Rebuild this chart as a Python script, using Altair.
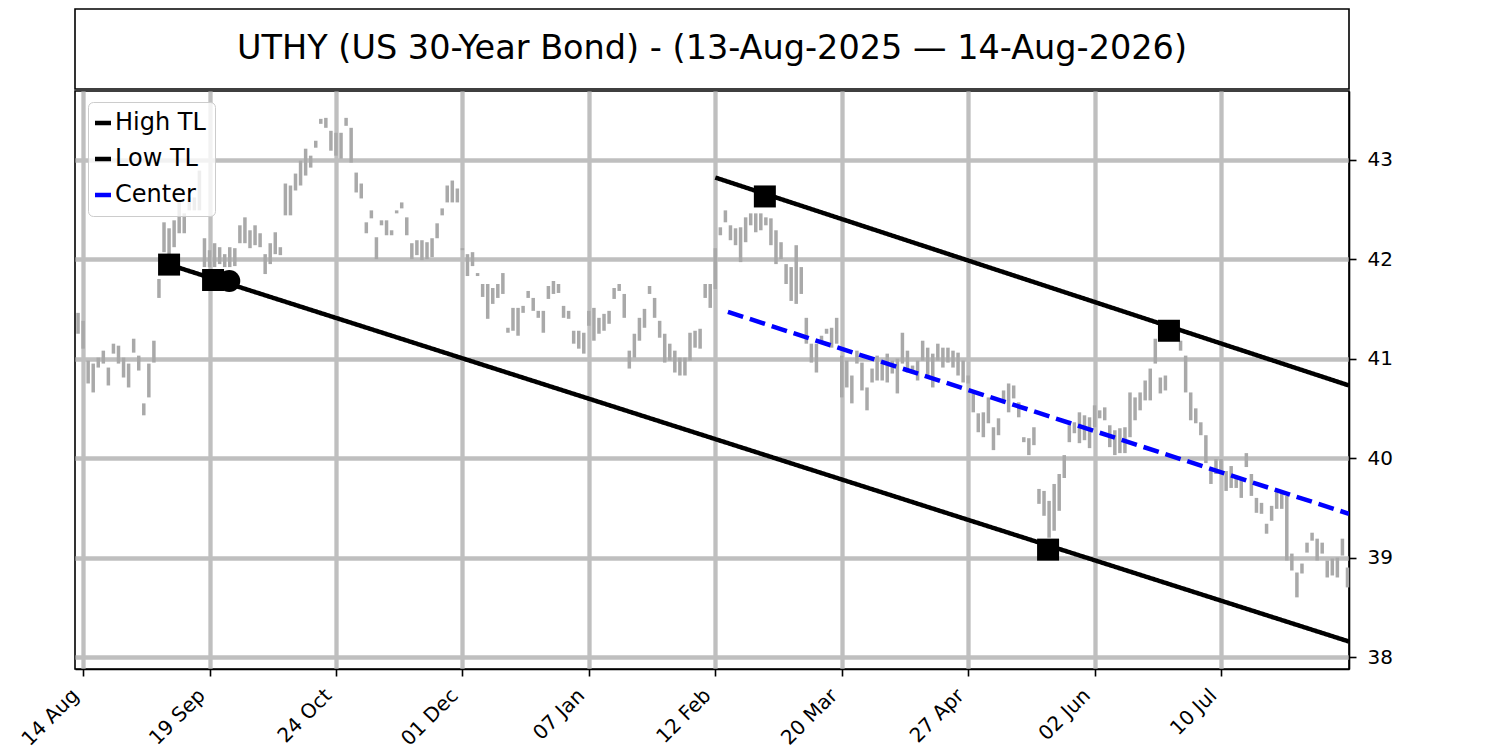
import altair as alt
import pandas as pd

title_text = "UTHY (US 30-Year Bond) - (13-Aug-2025 \u2014 14-Aug-2026)"

# x axis runs on the bar index (one bar per trading day)
tick_idx = [1, 26, 51, 76, 101, 126, 151, 176, 201, 226]
tick_labels = ["14 Aug", "19 Sep", "24 Oct", "01 Dec", "07 Jan",
               "12 Feb", "20 Mar", "27 Apr", "02 Jun", "10 Jul"]
price_ticks = [38, 39, 40, 41, 42, 43]

# daily low / high
low = [
    41.25, 41.10, 40.75, 40.66, 40.91, 40.95, 40.73, 41.05, 40.95, 40.81,
    40.71, 41.06, 40.88, 40.43, 40.61, 40.96, 41.61, 42.07, 42.02, 42.12,
    42.26, 42.26, 42.49, 42.49, 42.49, 41.92, 41.92, 41.92, 41.95, 41.92,
    41.92, 41.93, 42.16, 42.16, 42.11, 42.14, 42.12, 41.85, 41.95, 42.05,
    42.04, 42.44, 42.44, 42.69, 42.74, 42.84, 42.92, 43.12, 43.36, 43.32,
    43.09, 43.04, 43.01, 43.34, 42.97, 42.67, 42.61, 42.26, 42.41, 42.00,
    42.34, 42.24, 42.24, 42.46, 42.51, 42.24, 42.00, 42.04, 41.99, 42.00,
    42.02, 42.21, 42.44, 42.57, 42.57, 42.57, 42.09, 41.83, 41.93, 41.83,
    41.62, 41.40, 41.55, 41.61, 41.65, 41.26, 41.28, 41.23, 41.46, 41.61,
    41.48, 41.41, 41.26, 41.60, 41.65, 41.66, 41.41, 41.40, 41.15, 41.10,
    41.05, 41.33, 41.18, 41.25, 41.28, 41.35, 41.60, 41.68, 41.41, 40.90,
    41.01, 41.18, 41.31, 41.65, 41.41, 41.21, 40.96, 40.98, 40.86, 40.83,
    40.83, 40.98, 41.11, 41.10, 41.61, 41.51, 41.70, 42.24, 42.37, 42.19,
    42.14, 41.97, 42.17, 42.34, 42.27, 42.29, 42.34, 42.14, 41.95, 42.00,
    41.75, 41.58, 41.55, 41.65, 41.15, 40.96, 40.86, 41.15, 41.25, 41.11,
    41.15, 40.61, 40.71, 40.55, 40.95, 40.68, 40.48, 40.76, 40.78, 40.78,
    40.76, 40.85, 40.65, 40.95, 40.86, 40.85, 40.78, 40.98, 40.81, 40.71,
    40.98, 40.91, 40.96, 40.91, 40.83, 40.76, 40.75, 40.46, 40.26, 40.21,
    40.35, 40.08, 40.23, 40.55, 40.46, 40.60, 40.41, 40.16, 40.03, 40.13,
    39.54, 39.42, 39.20, 39.27, 39.47, 39.80, 40.16, 40.25, 40.15, 40.18,
    40.10, 40.31, 40.40, 40.38, 40.11, 40.03, 40.05, 40.05, 40.21, 40.38,
    40.48, 40.58, 40.58, 40.95, 40.65, 40.68, 41.18, 41.18, 41.08, 40.66,
    40.38, 40.35, 40.23, 39.95, 39.74, 39.84, 39.87, 39.67, 39.70, 39.70,
    39.60, 39.91, 39.62, 39.45, 39.44, 39.24, 39.37, 39.49, 39.49, 38.97,
    38.87, 38.60, 38.84, 39.05, 39.17, 38.97, 39.04, 38.80, 38.82, 38.80,
    39.02, 38.70,
]
high = [
    41.46, 41.38, 40.98, 40.95, 41.01, 41.08, 40.91, 41.15, 41.13, 41.01,
    40.95, 41.20, 41.03, 40.55, 40.95, 41.18, 41.80, 42.37, 42.31, 42.39,
    42.59, 42.46, 42.62, 42.62, 42.89, 42.21, 42.09, 42.16, 42.12, 42.05,
    42.12, 42.11, 42.34, 42.42, 42.29, 42.34, 42.26, 42.05, 42.16, 42.27,
    42.12, 42.76, 42.74, 42.86, 42.99, 43.11, 43.04, 43.19, 43.41, 43.42,
    43.29, 43.27, 43.27, 43.42, 43.32, 42.87, 42.76, 42.37, 42.49, 42.22,
    42.39, 42.39, 42.29, 42.49, 42.57, 42.42, 42.16, 42.19, 42.19, 42.17,
    42.21, 42.36, 42.51, 42.74, 42.79, 42.71, 42.11, 42.05, 42.07, 41.86,
    41.75, 41.75, 41.71, 41.75, 41.86, 41.31, 41.51, 41.51, 41.53, 41.68,
    41.61, 41.48, 41.48, 41.73, 41.78, 41.75, 41.53, 41.48, 41.28, 41.28,
    41.26, 41.48, 41.51, 41.41, 41.45, 41.48, 41.71, 41.75, 41.65, 41.08,
    41.25, 41.41, 41.50, 41.73, 41.61, 41.38, 41.25, 41.15, 41.08, 41.01,
    41.01, 41.26, 41.28, 41.30, 41.75, 41.75, 42.11, 42.32, 42.49, 42.34,
    42.31, 42.32, 42.42, 42.46, 42.46, 42.46, 42.42, 42.41, 42.29, 42.17,
    41.95, 41.92, 42.14, 41.92, 41.41, 41.15, 41.15, 41.23, 41.30, 41.31,
    41.41, 41.03, 40.98, 40.83, 41.08, 40.96, 40.71, 40.90, 41.03, 40.98,
    41.05, 40.98, 41.00, 41.26, 41.08, 40.93, 40.98, 41.18, 41.11, 41.05,
    41.15, 41.11, 41.11, 41.08, 41.06, 40.98, 40.83, 40.65, 40.45, 40.46,
    40.61, 40.31, 40.40, 40.68, 40.75, 40.73, 40.56, 40.21, 40.20, 40.31,
    39.69, 39.67, 39.57, 39.74, 39.84, 40.03, 40.33, 40.36, 40.46, 40.43,
    40.41, 40.53, 40.48, 40.51, 40.33, 40.28, 40.30, 40.31, 40.66, 40.61,
    40.66, 40.78, 40.90, 41.20, 40.81, 40.83, 41.28, 41.28, 41.18, 41.03,
    40.66, 40.50, 40.36, 40.23, 39.90, 39.99, 39.99, 39.87, 39.92, 39.82,
    39.80, 40.05, 39.84, 39.60, 39.55, 39.34, 39.52, 39.69, 39.67, 39.62,
    39.04, 38.85, 38.94, 39.15, 39.25, 39.19, 39.15, 38.97, 38.99, 39.00,
    39.19, 38.90,
]

# trend lines: end points (bar index, price)
high_tl_x = [126.0, 251.3]
high_tl_y = [42.82, 40.73]
low_tl_x = [18.0, 251.3]
low_tl_y = [41.945, 38.156]
center_x = [128.5, 251.3]
center_y = [41.47, 39.44]

# pivot markers
square_x = [18.0, 26.7, 135.8, 191.8, 215.7]
square_y = [41.945, 41.79, 42.63, 39.08, 41.28]
circle_x = [29.9]
circle_y = [41.78]

series_names = ["High TL", "Low TL", "Center"]

bars_df = pd.DataFrame({"idx": list(range(len(low))), "low": low, "high": high})
lines_df = pd.concat([
    pd.DataFrame({"x": high_tl_x, "y": high_tl_y, "series": "High TL"}),
    pd.DataFrame({"x": low_tl_x, "y": low_tl_y, "series": "Low TL"}),
    pd.DataFrame({"x": center_x, "y": center_y, "series": "Center"}),
])
squares_df = pd.DataFrame({"x": square_x, "y": square_y})
circles_df = pd.DataFrame({"x": circle_x, "y": circle_y})

x_scale = alt.Scale(domain=[-0.6, 251.3], nice=False, zero=False)
y_scale = alt.Scale(domain=[37.88, 43.69], nice=False, zero=False)

label_expr = f"{tick_labels}[indexof({tick_idx}, datum.value)]"
x_axis = alt.Axis(
    values=tick_idx,
    labelExpr=label_expr,
    labelAngle=-45,
    labelAlign="right",
    labelBaseline="top",
    labelPadding=9,
    labelOffset=-15,
    title=None,
)
y_axis = alt.Axis(
    orient="right",
    values=price_ticks,
    format="d",
    labelPadding=11,
    title=None,
)

bars = (
    alt.Chart(bars_df)
    .mark_rule(strokeWidth=3.5, color="#a9a9a9")
    .encode(
        x=alt.X("idx:Q", scale=x_scale, axis=x_axis),
        y=alt.Y("low:Q", scale=y_scale, axis=y_axis),
        y2="high:Q",
    )
)

lines = (
    alt.Chart(lines_df)
    .mark_line(strokeWidth=4.5, clip=True)
    .encode(
        x=alt.X("x:Q", scale=x_scale),
        y=alt.Y("y:Q", scale=y_scale),
        color=alt.Color(
            "series:N",
            scale=alt.Scale(domain=series_names, range=["black", "black", "blue"]),
            legend=alt.Legend(
                title=None,
                orient="none",
                legendX=13,
                legendY=93,
                symbolType="stroke",
                symbolSize=256,
                symbolStrokeWidth=4.5,
                symbolOffset=-6,
                labelFontSize=24,
                labelFont="DejaVu Sans",
                labelColor="black",
                labelOffset=0,
                padding=9,
                rowPadding=12,
                strokeColor="#cccccc",
                fillColor="rgba(255,255,255,0.8)",
                cornerRadius=5,
            ),
        ),
        strokeDash=alt.StrokeDash(
            "series:N",
            scale=alt.Scale(domain=series_names, range=[[1, 0], [1, 0], [16, 7]]),
            legend=None,
        ),
    )
)

squares = (
    alt.Chart(squares_df)
    .mark_point(shape="square", filled=True, size=484, color="black", opacity=1)
    .encode(x=alt.X("x:Q", scale=x_scale), y=alt.Y("y:Q", scale=y_scale))
)

circles = (
    alt.Chart(circles_df)
    .mark_point(shape="circle", filled=True, size=484, color="black", opacity=1)
    .encode(x=alt.X("x:Q", scale=x_scale), y=alt.Y("y:Q", scale=y_scale))
)

main = alt.layer(bars, lines, squares, circles).properties(width=1274, height=578)

top = (
    alt.Chart(pd.DataFrame({"t": [title_text]}))
    .mark_text(fontSize=33.5, font="DejaVu Sans", color="black")
    .encode(text="t:N", x=alt.value(637), y=alt.value(40))
    .properties(width=1274, height=80)
)

chart = (
    alt.vconcat(top, main, spacing=0)
    .properties(padding={"left": 9, "top": 0, "right": 5, "bottom": 5})
    .configure(font="DejaVu Sans")
    .configure_view(stroke="black", strokeWidth=1.6)
    .configure_axis(
        labelFont="DejaVu Sans",
        labelFontSize=20,
        labelColor="black",
        tickColor="black",
        tickSize=7,
        tickWidth=1.6,
        domainColor="black",
        domainWidth=1.6,
        grid=True,
        gridColor="#bfbfbf",
        gridWidth=4.3,
    )
)

chart.save("out.html", embed_options={"renderer": "svg", "actions": False})
